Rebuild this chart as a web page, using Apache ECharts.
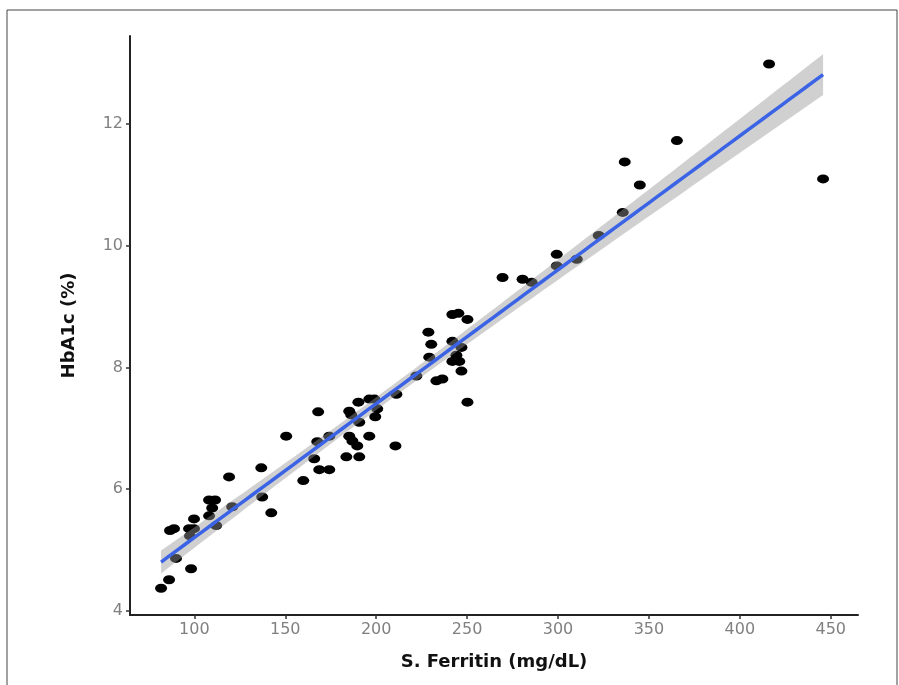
<!DOCTYPE html>
<html>
<head>
<meta charset="utf-8">
<script src="https://cdn.jsdelivr.net/npm/echarts@6/dist/echarts.min.js"></script>
<style>
html,body{margin:0;padding:0;background:#fff;}
#chart{width:899px;height:685px;}
</style>
</head>
<body>
<div id="chart"></div>
<script>
// S. Ferritin (mg/dL) values
const ferritin = [
  81.7, 86.1, 98.2, 89.9, 86.6, 88.8, 97.1, 99.8, 99.8, 97.6,
  108.1, 109.8, 108.1, 111.4, 112.0, 120.8, 119.1, 136.8, 137.3, 142.3,
  150.5, 159.9, 165.9, 168.7, 174.2, 168.1, 167.6, 174.2, 185.2, 190.2,
  196.2, 199.0, 200.6, 186.3, 190.7, 199.5, 185.2, 186.9, 189.6, 196.2,
  211.1, 210.6, 183.6, 190.7, 222.1, 233.1, 236.4, 229.2, 230.3, 228.7,
  241.9, 245.2, 250.2, 241.9, 246.9, 241.9, 245.7, 244.1, 246.9, 250.2,
  269.5, 280.5, 285.5, 299.3, 299.3, 310.3, 322.4, 335.6, 336.7, 345.0,
  365.4, 416.1, 445.8
];
// HbA1c (%) values
const hba1c = [
  4.37, 4.51, 4.69, 4.86, 5.32, 5.35, 5.35, 5.35, 5.51, 5.23,
  5.56, 5.69, 5.82, 5.82, 5.40, 5.71, 6.20, 6.35, 5.87, 5.61,
  6.87, 6.14, 6.50, 6.32, 6.32, 7.27, 6.78, 6.87, 7.28, 7.43,
  7.48, 7.48, 7.32, 7.22, 7.10, 7.19, 6.87, 6.79, 6.71, 6.87,
  7.56, 6.71, 6.53, 6.53, 7.86, 7.78, 7.81, 8.17, 8.38, 8.58,
  8.87, 8.89, 8.79, 8.43, 8.33, 8.10, 8.10, 8.20, 7.94, 7.43,
  9.48, 9.45, 9.40, 9.86, 9.67, 9.78, 10.17, 10.55, 11.38, 11.00,
  11.73, 12.99, 11.10
];
// Tick labels
const xTicks = [100, 150, 200, 250, 300, 350, 400, 450];
const yTicks = [4, 6, 8, 10, 12];

const points = ferritin.map((x, i) => [x, hba1c[i]]);

// Linear fit (OLS) with 95% confidence band, computed from the data
const n = ferritin.length;
const xbar = ferritin.reduce((a, b) => a + b, 0) / n;
const ybar = hba1c.reduce((a, b) => a + b, 0) / n;
let sxx = 0, sxy = 0;
for (let i = 0; i < n; i++) {
  sxx += (ferritin[i] - xbar) ** 2;
  sxy += (ferritin[i] - xbar) * (hba1c[i] - ybar);
}
const slope = sxy / sxx;
const icpt = ybar - slope * xbar;
let sse = 0;
for (let i = 0; i < n; i++) sse += (hba1c[i] - icpt - slope * ferritin[i]) ** 2;
const sres = Math.sqrt(sse / (n - 2));
const tcrit = 1.994;
const xmin = Math.min(...ferritin), xmax = Math.max(...ferritin);
const steps = 80;
const fitLine = [], bandUp = [], bandLo = [];
for (let k = 0; k <= steps; k++) {
  const x = xmin + (xmax - xmin) * k / steps;
  const yh = icpt + slope * x;
  const se = sres * Math.sqrt(1 / n + (x - xbar) ** 2 / sxx);
  fitLine.push([x, yh]);
  bandUp.push([x, yh + tcrit * se]);
  bandLo.push([x, yh - tcrit * se]);
}

const chart = echarts.init(document.getElementById('chart'));
const font = 'DejaVu Sans';
chart.setOption({
  animation: false,
  backgroundColor: '#ffffff',
  textStyle: { fontFamily: font },
  graphic: [{
    type: 'rect',
    shape: { x: 7, y: 10, width: 890, height: 700 },
    style: { fill: 'none', stroke: '#444', lineWidth: 1 },
    silent: true, z: -1
  }],
  grid: { left: 130, right: 41, top: 36, bottom: 70, containLabel: false },
  xAxis: {
    type: 'value',
    min: 64.6, max: 465,
    name: 'S. Ferritin (mg/dL)',
    nameLocation: 'middle',
    nameGap: 38,
    nameTextStyle: { fontFamily: font, fontWeight: 'bold', fontSize: 18, color: '#111' },
    axisLine: { show: true, onZero: false, lineStyle: { color: '#222', width: 2 } },
    axisTick: { show: true, length: 4, customValues: xTicks, lineStyle: { color: '#333', width: 1.5 } },
    axisLabel: { customValues: xTicks, color: '#808080', fontSize: 16, margin: 7, fontFamily: font },
    splitLine: { show: false }
  },
  yAxis: {
    type: 'value',
    min: 3.93, max: 13.45,
    name: 'HbA1c (%)',
    nameLocation: 'middle',
    nameGap: 52,
    nameRotate: 90,
    nameTextStyle: { fontFamily: font, fontWeight: 'bold', fontSize: 18, color: '#111' },
    axisLine: { show: true, onZero: false, lineStyle: { color: '#222', width: 2 } },
    axisTick: { show: true, length: 4, customValues: yTicks, lineStyle: { color: '#333', width: 1.5 } },
    axisLabel: { customValues: yTicks, color: '#808080', fontSize: 16, margin: 7, fontFamily: font },
    splitLine: { show: false }
  },
  series: [
    {
      type: 'scatter',
      data: points,
      symbol: 'circle',
      symbolSize: [12, 9],
      itemStyle: { color: '#000', opacity: 1 },
      z: 2
    },
    {
      type: 'custom',
      data: [[xmin, icpt + slope * xmin]],
      z: 3,
      silent: true,
      renderItem: function (params, api) {
        const pts = [];
        bandUp.forEach(p => pts.push(api.coord(p)));
        for (let k = bandLo.length - 1; k >= 0; k--) pts.push(api.coord(bandLo[k]));
        return {
          type: 'polygon',
          shape: { points: pts },
          style: { fill: 'rgba(150,150,150,0.45)', stroke: 'none' }
        };
      }
    },
    {
      type: 'line',
      data: fitLine,
      showSymbol: false,
      symbol: 'none',
      lineStyle: { color: '#3a63e6', width: 3.5 },
      z: 4,
      silent: true
    }
  ]
});
</script>
</body>
</html>
